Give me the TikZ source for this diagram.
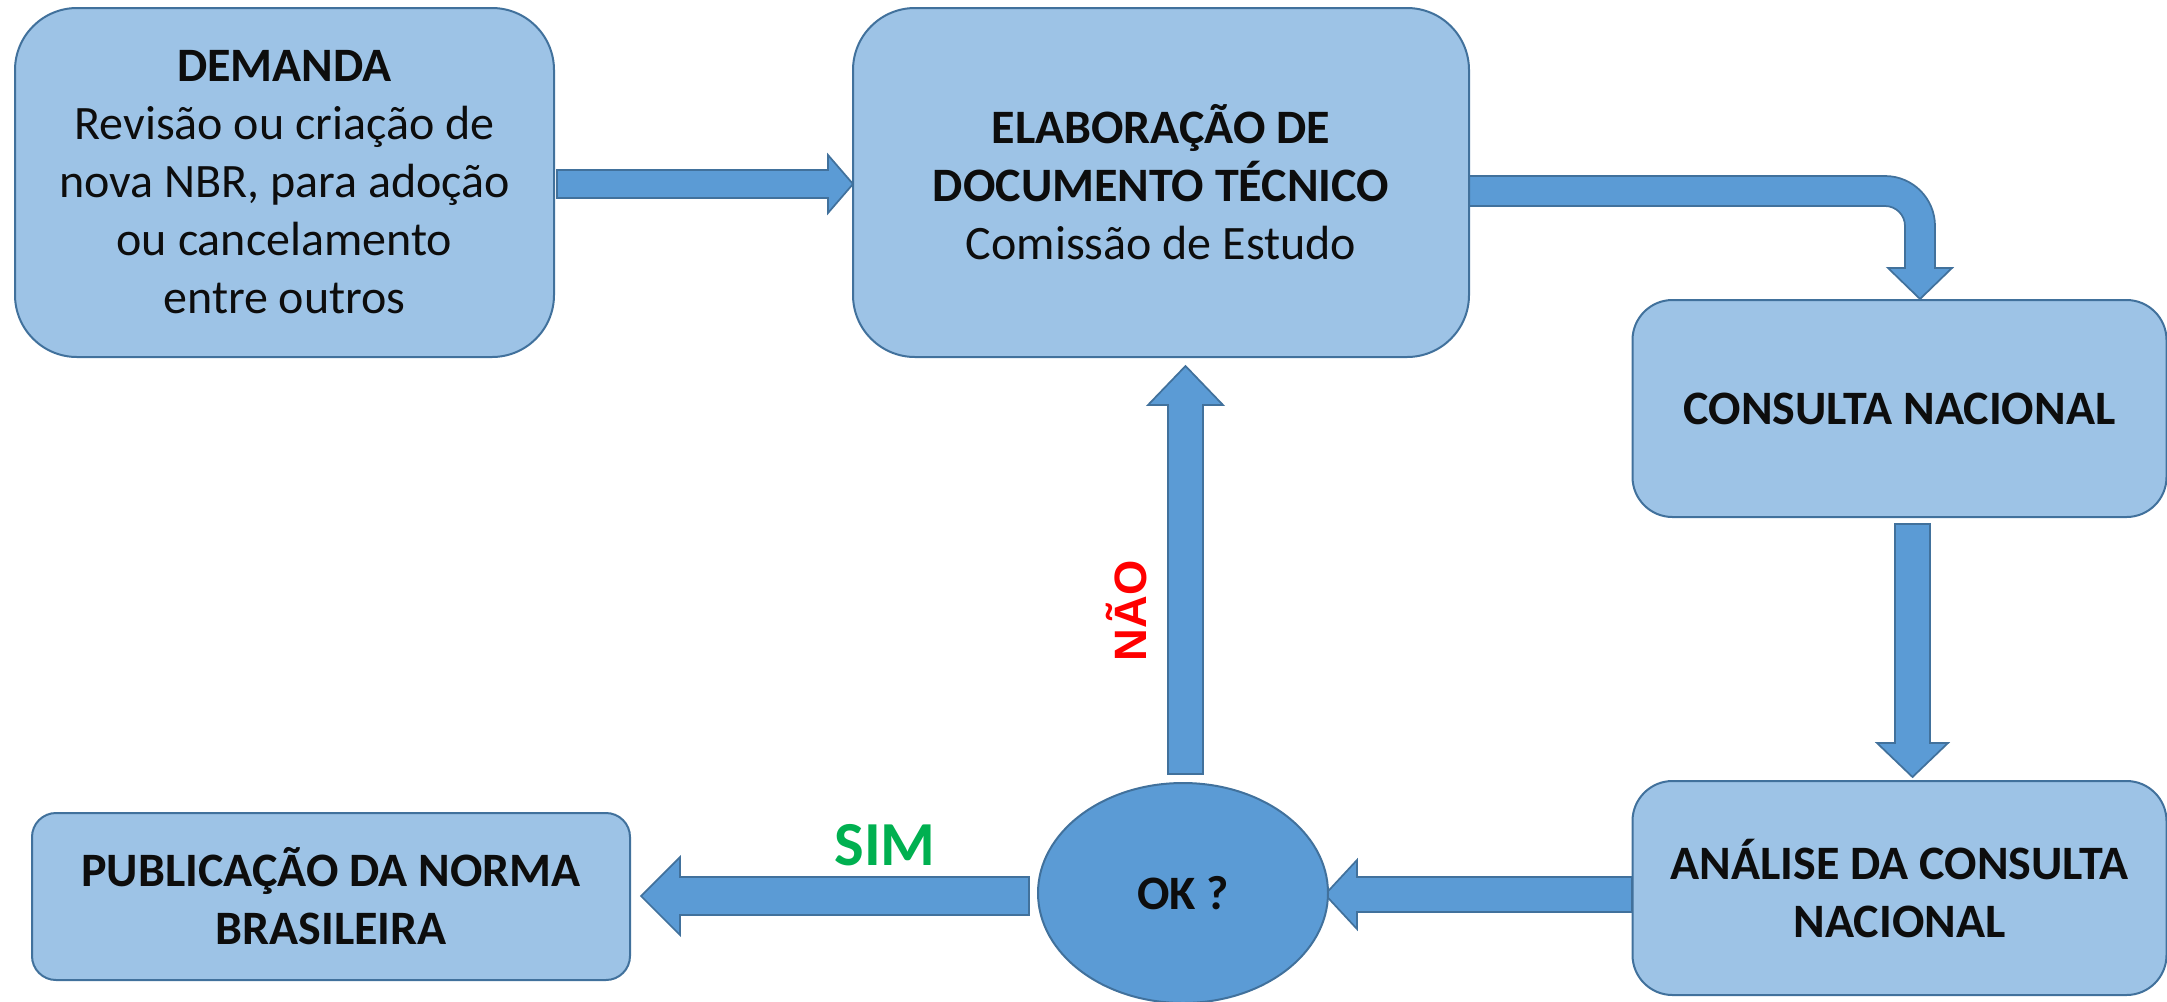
\documentclass[tikz,border=0pt]{standalone}
\usepackage{fontspec}
\setmainfont{Carlito}
\newfontfamily\arialfont{Liberation Sans}
\usetikzlibrary{shapes.geometric}
\definecolor{boxfill}{HTML}{9DC3E6}
\definecolor{edgeblue}{HTML}{41719C}
\definecolor{arrowfill}{HTML}{5B9BD5}
\definecolor{simgreen}{HTML}{00B050}
\definecolor{naored}{HTML}{FF0000}
\definecolor{txt}{HTML}{0D0D0D}
\pgfdeclarelayer{bg}
\pgfsetlayers{bg,main}
\begin{document}
\begin{tikzpicture}[x=0.75pt,y=-0.75pt,
  box/.style={draw=edgeblue, fill=boxfill, line width=1.5pt, align=center, inner sep=0pt, text=txt, font=\fontsize{36}{43.5}\selectfont},
  blockarrow/.style={draw=edgeblue, fill=arrowfill, line width=1.3pt, line join=miter},
  decision/.style={ellipse, draw=edgeblue, fill=arrowfill, line width=1.5pt, inner sep=0pt, text=txt, font=\fontsize{36}{43.5}\selectfont\bfseries}]
\useasboundingbox (0,0) rectangle (2167,1001);

\node[box, minimum width=404.25pt, minimum height=261.75pt, rounded corners=46.5pt] (demanda) at (284.5,182.5)
  {\textbf{DEMANDA}\\Revisão ou criação de\\nova NBR, para adoção\\ou cancelamento\\entre outros};
\node[box, minimum width=462pt, minimum height=261.75pt, rounded corners=46.5pt] (elab) at (1161,182.5)
  {\textbf{ELABORAÇÃO DE}\\\textbf{DOCUMENTO TÉCNICO}\\Comissão de Estudo};
\node[box, minimum width=400.5pt, minimum height=162.75pt, rounded corners=30pt] (consulta) at (1899.5,408.5)
  {\textbf{CONSULTA NACIONAL}};
\node[box, minimum width=400.5pt, minimum height=160.5pt, rounded corners=30pt] (analise) at (1899.5,888)
  {\textbf{ANÁLISE DA CONSULTA}\\\textbf{NACIONAL}};
\node[box, minimum width=448.5pt, minimum height=125.25pt, rounded corners=18pt] (pub) at (331,896.5)
  {\textbf{PUBLICAÇÃO DA NORMA}\\\textbf{BRASILEIRA}};
\node[decision, minimum width=217.5pt, minimum height=165pt] (ok) at (1183,893) {OK ?};

\node[text=simgreen, font=\fontsize{47}{56}\selectfont\bfseries, inner sep=0pt] (sim) at (885,845) {SIM};
\node[text=naored, font=\fontsize{34}{40}\arialfont\bfseries, rotate=90, inner sep=0pt] (nao) at (1127,611) {NÃO};

\begin{pgfonlayer}{bg}
% DEMANDA -> ELABORACAO
\draw[blockarrow] (557,170) -- (828,170) -- (828,155) -- (853,184) -- (828,213) -- (828,198) -- (557,198) -- cycle;
% ELABORACAO -> CONSULTA (bent)
\draw[blockarrow] (1469,176) -- (1885,176) .. controls (1912.6,176) and (1935,198.4) .. (1935,226)
  -- (1935,268) -- (1952,268) -- (1920,299) -- (1888,268) -- (1905,268) -- (1905,226)
  .. controls (1905,215) and (1896,206) .. (1885,206) -- (1469,206) -- cycle;
% CONSULTA -> ANALISE
\draw[blockarrow] (1895,524) -- (1930,524) -- (1930,743) -- (1948,743) -- (1912.5,777) -- (1877,743) -- (1895,743) -- cycle;
% ANALISE -> OK
\draw[blockarrow] (1632,877) -- (1357,877) -- (1357,860) -- (1325,894.5) -- (1357,929) -- (1357,912) -- (1632,912) -- cycle;
% OK -> PUBLICACAO (SIM)
\draw[blockarrow] (1029,877) -- (680,877) -- (680,857) -- (641,896) -- (680,935) -- (680,915) -- (1029,915) -- cycle;
% OK -> ELABORACAO (NAO)
\draw[blockarrow] (1168,774) -- (1168,405) -- (1148,405) -- (1185.5,366) -- (1223,405) -- (1203,405) -- (1203,774) -- cycle;
\end{pgfonlayer}
\end{tikzpicture}
\end{document}
